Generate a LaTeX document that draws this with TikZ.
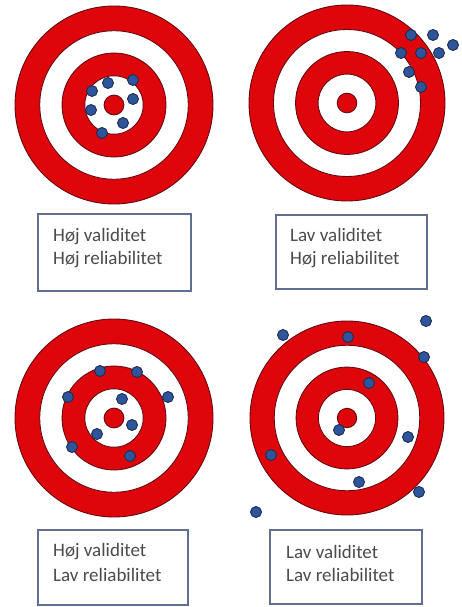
\documentclass[tikz,border=0pt]{standalone}
\usepackage{fontspec}
\setmainfont{Carlito}
\definecolor{ringred}{RGB}{222,6,10}
\definecolor{ringedge}{RGB}{100,10,20}
\definecolor{dotblue}{RGB}{45,85,155}
\definecolor{dotedge}{RGB}{30,45,80}
\definecolor{boxedge}{RGB}{95,110,145}
\definecolor{txtgray}{RGB}{75,75,75}
\tikzset{
  redring/.style={fill=ringred,draw=ringedge,line width=0.9pt},
  whitering/.style={fill=white,draw=ringedge,line width=0.9pt},
  hit/.style={circle,fill=dotblue,draw=dotedge,line width=0.9pt,minimum size=11pt,inner sep=0pt},
  labelbox/.style={draw=boxedge,line width=1.6pt,fill=white},
  labeltext/.style={anchor=west,text=txtgray,font=\fontsize{19}{23}\selectfont,inner sep=0pt}
}
\newcommand{\mytarget}[3]{%
  \fill[redring] (#1,#2) circle (#3);
  \fill[whitering] (#1,#2) circle (#3*0.75);
  \fill[redring] (#1,#2) circle (#3*0.525);
  \fill[whitering] (#1,#2) circle (#3*0.295);
  \fill[redring] (#1,#2) circle (#3*0.1);
}
\begin{document}
\begin{tikzpicture}[x=1pt,y=-1pt]
\useasboundingbox (0,0) rectangle (462,607);
\fill[white] (0,0) rectangle (462,607);
% targets
\mytarget{114}{105}{99}
\mytarget{347}{103}{98}
\mytarget{114}{418}{99}
\mytarget{347}{418}{97}
% hits target 1
\node[hit] (a1) at (92,91) {};
\node[hit] (a2) at (108,83) {};
\node[hit] (a3) at (133,80) {};
\node[hit] (a4) at (133,99) {};
\node[hit] (a5) at (91,110) {};
\node[hit] (a6) at (123,123) {};
\node[hit] (a7) at (102,133) {};
% hits target 2
\node[hit] (b1) at (411,35) {};
\node[hit] (b2) at (433,35) {};
\node[hit] (b3) at (453,45) {};
\node[hit] (b4) at (401,53) {};
\node[hit] (b5) at (421,53) {};
\node[hit] (b6) at (439,53) {};
\node[hit] (b7) at (409,72) {};
\node[hit] (b8) at (421,87) {};
% hits target 3
\node[hit] (c1) at (100,371) {};
\node[hit] (c2) at (137,372) {};
\node[hit] (c3) at (68,397) {};
\node[hit] (c4) at (168,397) {};
\node[hit] (c5) at (122,399) {};
\node[hit] (c6) at (132,425) {};
\node[hit] (c7) at (97,434) {};
\node[hit] (c8) at (72,447) {};
\node[hit] (c9) at (130,456) {};
% hits target 4
\node[hit] (d1) at (426,321) {};
\node[hit] (d2) at (283,335) {};
\node[hit] (d3) at (348,337) {};
\node[hit] (d4) at (424,357) {};
\node[hit] (d5) at (369,383) {};
\node[hit] (d6) at (339,430) {};
\node[hit] (d7) at (408,437) {};
\node[hit] (d8) at (271,455) {};
\node[hit] (d9) at (359,482) {};
\node[hit] (d10) at (419,492) {};
\node[hit] (d11) at (256,512) {};
% label boxes
\draw[labelbox] (38,214) rectangle (191,291);
\node[labeltext] (t1a) at (53,237) {Høj validitet};
\node[labeltext] (t1b) at (53,260) {Høj reliabilitet};
\draw[labelbox] (276,215) rectangle (427,289);
\node[labeltext] (t2a) at (290,235) {Lav validitet};
\node[labeltext] (t2b) at (290,260) {Høj reliabilitet};
\draw[labelbox] (38,530) rectangle (188,605);
\node[labeltext] (t3a) at (53,552) {Høj validitet};
\node[labeltext] (t3b) at (53,575) {Lav reliabilitet};
\draw[labelbox] (270,530) rectangle (422,604);
\node[labeltext] (t4a) at (286,552) {Lav validitet};
\node[labeltext] (t4b) at (286,575) {Lav reliabilitet};
\end{tikzpicture}
\end{document}
